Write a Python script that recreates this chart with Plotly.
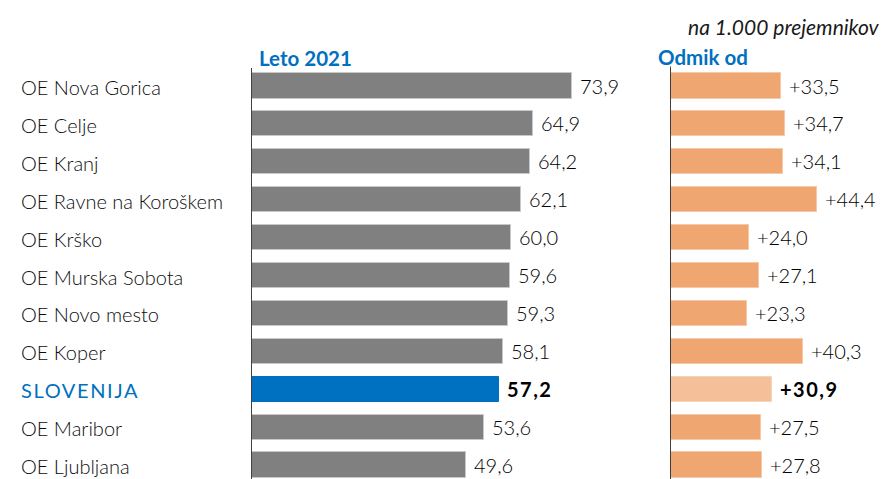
import plotly.graph_objects as go

categories = ["OE Nova Gorica", "OE Celje", "OE Kranj", "OE Ravne na Koroškem", "OE Krško",
              "OE Murska Sobota", "OE Novo mesto", "OE Koper", "SLOVENIJA", "OE Maribor", "OE Ljubljana"]
leto_2021 = [73.9, 64.9, 64.2, 62.1, 60.0, 59.6, 59.3, 58.1, 57.2, 53.6, 49.6]
odmik = [33.5, 34.7, 34.1, 44.4, 24.0, 27.1, 23.3, 40.3, 30.9, 27.5, 27.8]
highlight = "SLOVENIJA"

# page body has an 8px margin; work in window pixels and convert
OFF = 8
W, H = 888 - OFF, 479 - OFF
FONT = "Lato"
TXT = "#0d0d0d"
BLUE = "#0070C0"


def px(x):
    return (x - OFF) / W


def py(y):
    return 1 - (y - OFF) / H


def fmt(v, plus=False):
    s = f"{v:.1f}".replace(".", ",")
    return ("+" if plus else "") + s


idx = list(range(len(categories)))
left_colors = [BLUE if c == highlight else "#808080" for c in categories]
left_lines = [BLUE if c == highlight else "#C8C8C8" for c in categories]
right_colors = ["#F4BF99" if c == highlight else "#F0A670" for c in categories]
right_lines = ["#F7D3B8" if c == highlight else "#F6C8A6" for c in categories]
SP = '<span style="letter-spacing:1.5px;font-weight:bold">'
left_text = [f" {SP}{fmt(v)}</span>" if c == highlight else " " + fmt(v)
             for c, v in zip(categories, leto_2021)]
right_text = [f" {SP}{fmt(v, True)}</span>" if c == highlight else " " + fmt(v, True)
              for c, v in zip(categories, odmik)]

fig = go.Figure()
fig.add_trace(go.Bar(
    y=idx, x=leto_2021, orientation="h", xaxis="x", yaxis="y",
    marker=dict(color=left_colors, line=dict(color=left_lines, width=1)),
    width=0.66, text=left_text, textposition="outside", cliponaxis=False,
    constraintext="none", textfont=dict(family=FONT, size=20, color="#000000", weight=300),
    hoverinfo="skip"))
fig.add_trace(go.Bar(
    y=idx, x=odmik, orientation="h", xaxis="x2", yaxis="y",
    marker=dict(color=right_colors, line=dict(color=right_lines, width=1)),
    width=0.66, text=right_text, textposition="outside", cliponaxis=False,
    constraintext="none", textfont=dict(family=FONT, size=20, color="#000000", weight=300),
    hoverinfo="skip"))

lx0, lscale = 251, 4.34
rx0, rscale = 670, 3.3
lrange, rrange = 80, 60
row0, step = 86, 37.9  # window pixel centre of first row, row pitch
r0 = row0 - OFF

fig.update_layout(
    width=W, height=H, margin=dict(l=0, r=0, t=0, b=0),
    paper_bgcolor="white", plot_bgcolor="white", showlegend=False, bargap=0,
    xaxis=dict(domain=[px(lx0), px(lx0 + lrange * lscale)], range=[0, lrange],
               visible=False, fixedrange=True),
    xaxis2=dict(domain=[px(rx0), px(rx0 + rrange * rscale)], range=[0, rrange],
                visible=False, fixedrange=True),
    yaxis=dict(range=[(len(categories) - 1) + (H - (r0 + step * 10)) / step, -r0 / step],
               visible=False, fixedrange=True),
)

# vertical axis lines
fig.add_shape(type="line", xref="x", yref="y", x0=0, x1=0, y0=(68 - row0) / step,
              y1=(H + OFF - row0) / step + 0.5, line=dict(color="#404040", width=2))
fig.add_shape(type="line", xref="x2", yref="y", x0=0, x1=0, y0=(66.5 - row0) / step,
              y1=(H + OFF - row0) / step + 0.5, line=dict(color="#404040", width=2))

# category labels
for i, c in enumerate(categories):
    if c == highlight:
        fig.add_annotation(x=px(19), xref="paper", y=i, yref="y", xanchor="left", yshift=-1,
                           text=f'<span style="letter-spacing:1.6px">{c}</span>', showarrow=False,
                           font=dict(family=FONT, size=20, color=BLUE, weight=400))
    else:
        fig.add_annotation(x=px(19), xref="paper", y=i, yref="y", xanchor="left", yshift=-1,
                           text=c, showarrow=False,
                           font=dict(family=FONT, size=20, color=TXT, weight=300))

fig.add_annotation(x=px(257), xref="paper", y=py(58), yref="paper", xanchor="left",
                   yanchor="middle", text="<b>Leto 2021</b>", showarrow=False,
                   font=dict(family=FONT, size=20.5, color=BLUE))
fig.add_annotation(x=px(656), xref="paper", y=py(57), yref="paper", xanchor="left",
                   yanchor="middle", text="<b>Odmik od</b>", showarrow=False,
                   font=dict(family=FONT, size=20.5, color=BLUE))
fig.add_annotation(x=px(882), xref="paper", y=py(27), yref="paper", xanchor="right",
                   yanchor="middle", text="<i>na 1.000 prejemnikov</i>", showarrow=False,
                   font=dict(family=FONT, size=21, color="#1a1a1a", weight=400))

fig.write_html("out.html")
